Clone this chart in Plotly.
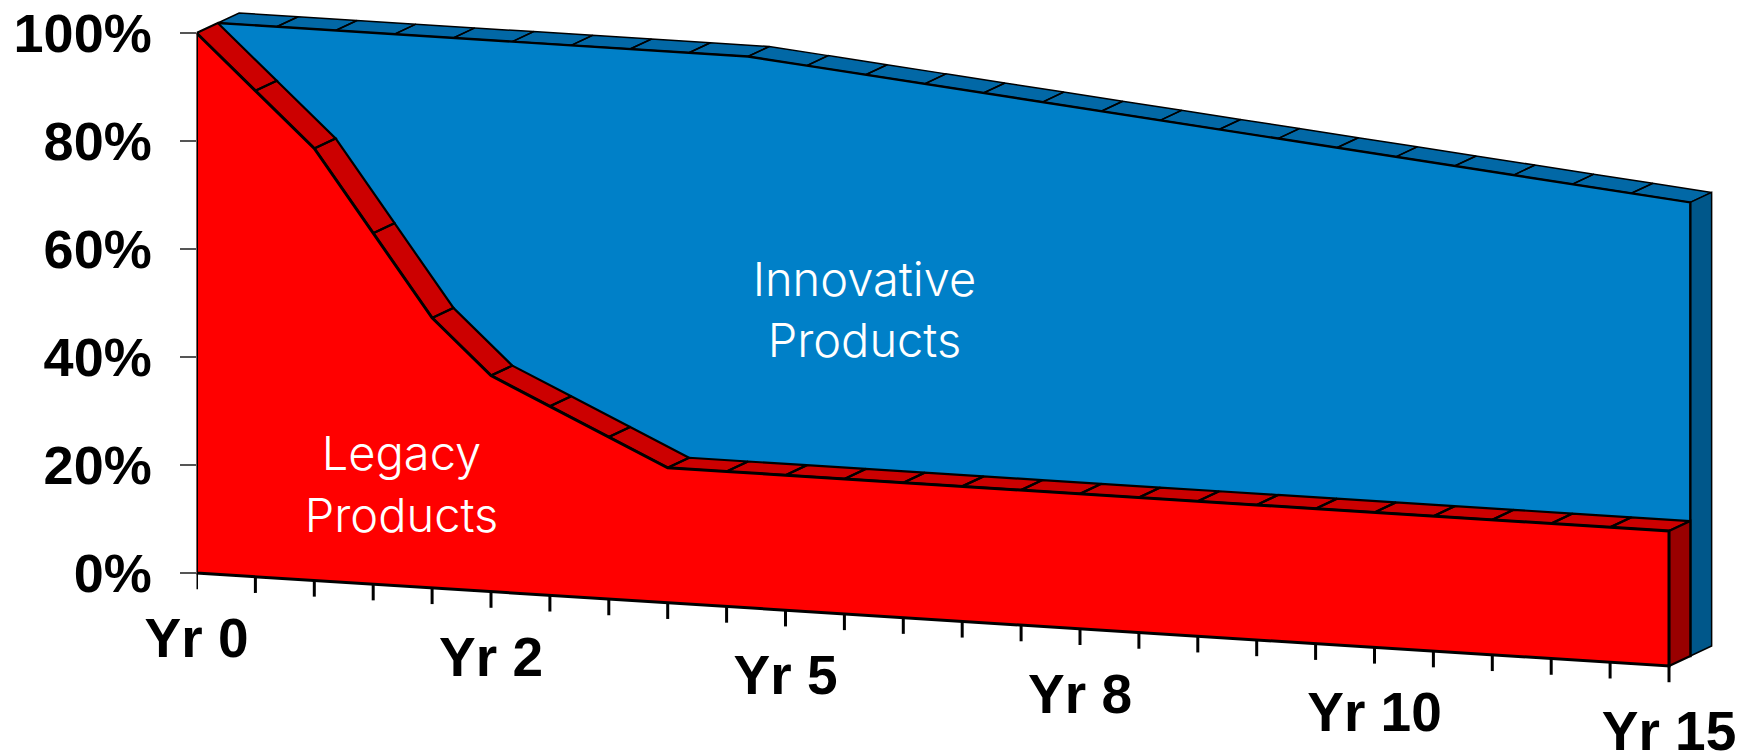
import plotly.graph_objects as go

# ---- data ----
year_labels = ["Yr 0", "", "", "", "", "Yr 2", "", "", "", "", "Yr 5", "", "", "", "", "Yr 8",
               "", "", "", "", "Yr 10", "", "", "", "", "Yr 15"]
legacy = [100, 90, 80, 65, 50, 40, 35, 30, 25, 25, 25, 25, 25, 25, 25, 25, 25, 25, 25, 25, 25, 25, 25, 25, 25, 25]
innovative = [0, 10, 20, 35, 50, 60, 65, 70, 75, 75, 74, 73, 72, 71, 70, 69, 68, 67, 66, 65, 64, 63, 62, 61, 60, 59]
y_ticks = [0, 20, 40, 60, 80, 100]
y_tick_labels = ["0%", "20%", "40%", "60%", "80%", "100%"]

# ---- oblique projection of the 3-D area chart, in axis units ----
W, H = 1744, 755
PX_X, PX_Y = 58.9, 5.4        # pixels per category / per percent
X0_PX, Y0_PX = 196.5, 573     # pixel position of the origin
FLOOR_DROP = 0.689            # percent the floor falls per category
DEPTH_X, DEPTH_Y = 0.362, 1.85  # one series of depth

RED, RED_TOP, RED_SIDE = "#FF0000", "#CC0000", "#990000"
BLUE, BLUE_TOP, BLUE_SIDE = "#0080C8", "#0268A6", "#00578A"
INK = "#000000"
n = len(legacy)
total = [a + b for a, b in zip(legacy, innovative)]


def px(i, depth=0):
    return i + depth * DEPTH_X


def py(i, value, depth=0):
    return value - FLOOR_DROP * i + depth * DEPTH_Y


def band(values, depth):
    xs, ys = [], []
    for i in range(n - 1):
        xs += [px(i, depth), px(i + 1, depth), px(i + 1, depth + 1), px(i, depth + 1), px(i, depth), None]
        ys += [py(i, values[i], depth), py(i + 1, values[i + 1], depth),
               py(i + 1, values[i + 1], depth + 1), py(i, values[i], depth + 1), py(i, values[i], depth), None]
    return xs, ys


def front(values, depth):
    xs = [px(i, depth) for i in range(n)] + [px(n - 1, depth), px(0, depth), px(0, depth)]
    ys = [py(i, values[i], depth) for i in range(n)] + [py(n - 1, 0, depth), py(0, 0, depth), py(0, values[0], depth)]
    return xs, ys


def side(value, depth):
    i = n - 1
    xs = [px(i, depth), px(i, depth + 1), px(i, depth + 1), px(i, depth), px(i, depth)]
    ys = [py(i, value, depth), py(i, value, depth + 1), py(i, 0, depth + 1), py(i, 0, depth), py(i, value, depth)]
    return xs, ys


fig = go.Figure()


def poly(xy, fill, width, name):
    fig.add_trace(go.Scatter(x=xy[0], y=xy[1], mode="lines", fill="toself", fillcolor=fill,
                             line=dict(color=INK, width=width), name=name,
                             hoverinfo="skip", showlegend=False, cliponaxis=False))


poly(band(total, 1), BLUE_TOP, 1.5, "Innovative top")
poly(side(total[-1], 1), BLUE_SIDE, 1.5, "Innovative side")
poly(front(total, 1), BLUE, 2.4, "Innovative Products")
poly(band(legacy, 0), RED_TOP, 2.2, "Legacy top")
poly(side(legacy[-1], 0), RED_SIDE, 2.2, "Legacy side")
poly(front(legacy, 0), RED, 3, "Legacy Products")

# x axis ticks follow the sloping floor
tx, ty = [], []
for i in range(n):
    tx += [i, i, None]
    ty += [py(i, 0), py(i, -3), None]
fig.add_trace(go.Scatter(x=tx, y=ty, mode="lines", line=dict(color=INK, width=3), hoverinfo="skip",
                         showlegend=False, cliponaxis=False))

# category labels
lab = [i for i in range(n) if year_labels[i]]
fig.add_trace(go.Scatter(x=lab, y=[py(i, -13) for i in lab], mode="text",
                         text=[year_labels[i] for i in lab], textposition="middle center",
                         textfont=dict(family="Liberation Sans", size=55, color=INK, weight="bold"),
                         hoverinfo="skip", showlegend=False, cliponaxis=False))

# series labels
fig.add_trace(go.Scatter(x=[3.48, 11.34], y=[py(3.48, 17.9), py(11.34, 55.7)], mode="text",
                         text=["Legacy<br>Products", "Innovative<br>Products"], textposition="middle center",
                         textfont=dict(family="Inter", size=47, color="#FFFFFF", weight=300),
                         hoverinfo="skip", showlegend=False, cliponaxis=False))

fig.update_layout(
    width=W, height=H, margin=dict(l=0, r=0, t=0, b=0), paper_bgcolor="#FFFFFF", plot_bgcolor="rgba(0,0,0,0)",
    showlegend=False,
    xaxis=dict(domain=[X0_PX / W, 1], range=[0, (W - X0_PX) / PX_X], visible=False),
    yaxis=dict(domain=[0, 1], range=[(Y0_PX - H) / PX_Y, Y0_PX / PX_Y], showgrid=False, zeroline=False,
               showline=False, tickmode="array", tickvals=y_ticks, ticktext=y_tick_labels,
               ticks="outside", ticklen=16, tickwidth=1.5, tickcolor="#555555", ticklabelstandoff=17,
               tickfont=dict(family="Liberation Sans", size=54, color=INK, weight="bold")),
)
fig.write_html("out.html", config={"displayModeBar": False},
               post_script="document.body.style.margin='0';document.body.style.overflow='hidden';")
